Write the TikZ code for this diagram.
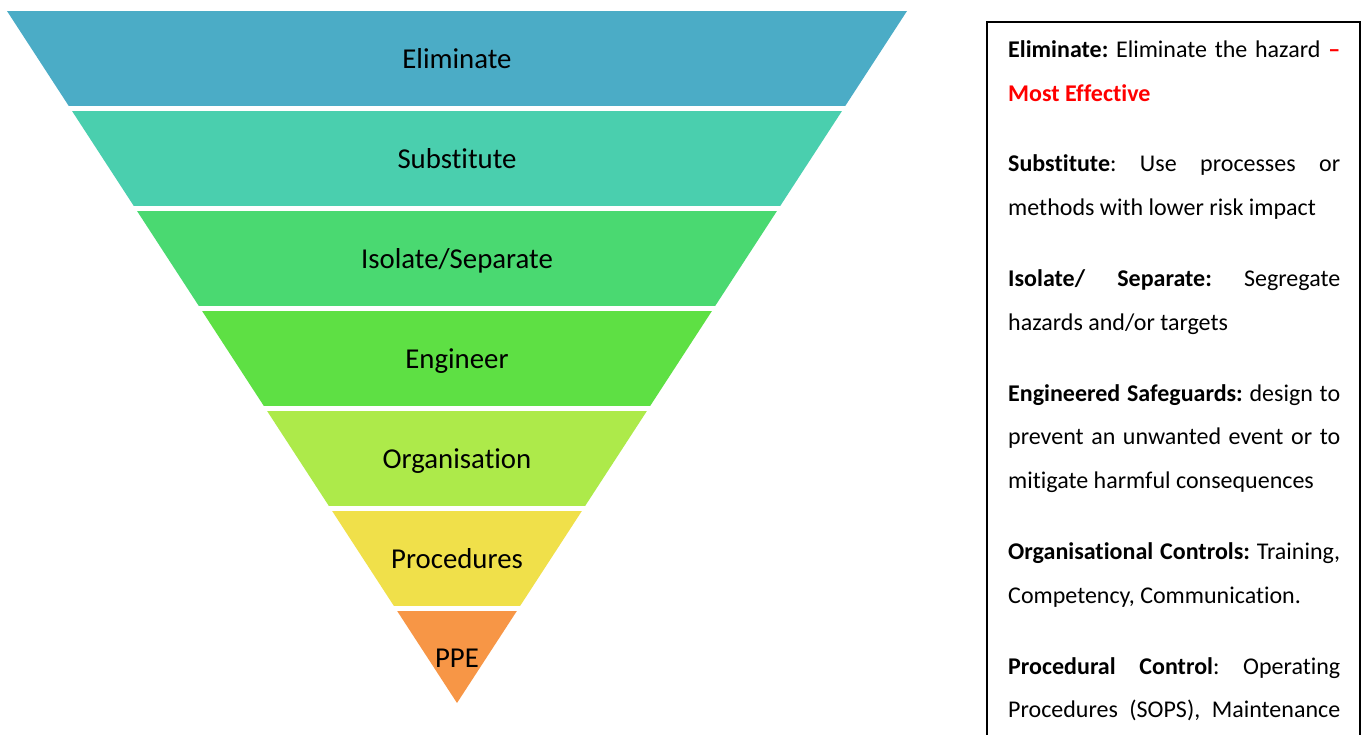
\documentclass[tikz,border=0pt]{standalone}
\usepackage{fontspec}
\setmainfont[Ligatures=NoCommon]{Carlito}
\usetikzlibrary{positioning}
\frenchspacing

\definecolor{elimcol}{RGB}{75,172,198}
\definecolor{subscol}{RGB}{74,207,174}
\definecolor{isolcol}{RGB}{74,217,113}
\definecolor{engicol}{RGB}{94,224,68}
\definecolor{orgacol}{RGB}{173,234,74}
\definecolor{proccol}{RGB}{240,224,74}
\definecolor{ppecol}{RGB}{247,150,70}

\tikzset{
    level/.style={anchor=base, inner sep=0pt, font=\fontsize{28.8}{34}\selectfont},
    infobox/.style={anchor=base west, inner sep=0pt, text width=332pt, align=justify,
        font=\fontsize{24}{43.8}\selectfont}
}

\begin{document}
\begin{tikzpicture}[x=1pt, y=-1pt]
    \useasboundingbox (0,0) rectangle (1366,735);
    \fill[white] (0,0) rectangle (1366,735);

    % PYRAMID BANDS
    \begin{scope}
        \clip (7,11) -- (907,11) -- (457,703) -- cycle;
        \fill[elimcol] (0,11) rectangle (920,106);
        \fill[subscol] (0,111) rectangle (920,206);
        \fill[isolcol] (0,211) rectangle (920,306);
        \fill[engicol] (0,311) rectangle (920,406);
        \fill[orgacol] (0,411) rectangle (920,506);
        \fill[proccol] (0,511) rectangle (920,606);
        \fill[ppecol] (0,611) rectangle (920,710);
    \end{scope}

    % LEVEL LABELS
    \node[level] (elim) at (457,68.5) {Eliminate};
    \node[level] (subs) at (457,168.5) {Substitute};
    \node[level] (isol) at (457,268.5) {Isolate/Separate};
    \node[level] (engi) at (457,368.5) {Engineer};
    \node[level] (orga) at (457,468.5) {Organisation};
    \node[level] (proc) at (457,568.5) {Procedures};
    \node[level] (ppe) at (457,667.5) {PPE};

    % DESCRIPTION BOX
    \draw[line width=1.8pt] (987,22) rectangle (1360,760);
    \node[infobox] (desc) at (1008,57.3) {\setlength{\parskip}{27pt}%
        \textbf{Eliminate:} Eliminate the hazard \textcolor{red}{\textbf{–}}\linebreak
        \textcolor{red}{\textbf{Most Effective}}\par
        \textbf{Substitute}: Use processes or\linebreak
        methods with lower risk impact\par
        \textbf{Isolate/ Separate:} Segregate\linebreak
        hazards and/or targets\par
        \textbf{Engineered Safeguards:} design to\linebreak
        prevent an unwanted event or to\linebreak
        mitigate harmful consequences\par
        \textbf{Organisational Controls:} Training,\linebreak
        Competency, Communication.\par
        {\parfillskip=0pt \textbf{Procedural Control}: Operating\linebreak
        Procedures (SOPS), Maintenance\par}};
\end{tikzpicture}
\end{document}
